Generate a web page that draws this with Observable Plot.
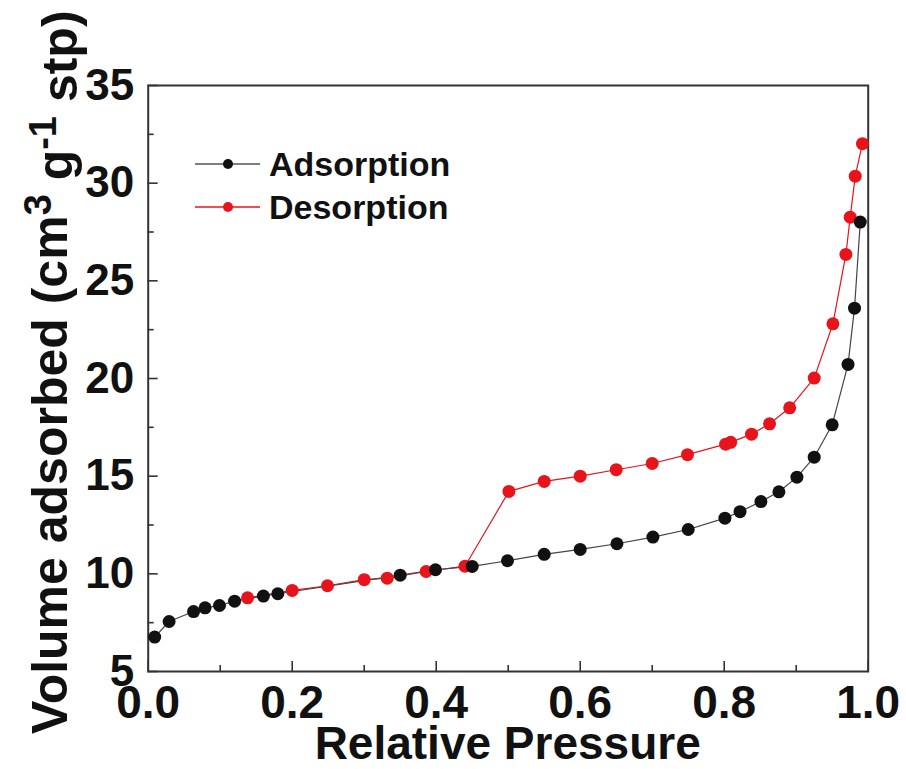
<!DOCTYPE html>
<html>
<head>
<meta charset="utf-8">
<script src="https://cdn.jsdelivr.net/npm/d3@7"></script>
<script src="https://cdn.jsdelivr.net/npm/@observablehq/plot@0.6"></script>
<style>
  html, body { margin: 0; padding: 0; background: #fff; }
  #chart svg { display: block; }
</style>
</head>
<body>
<div id="chart"></div>
<script>
// ---- Data ----
const adsorptionP = [0.009, 0.029, 0.063, 0.079, 0.099, 0.120, 0.160, 0.180, 0.350, 0.399, 0.450, 0.499,
  0.550, 0.600, 0.651, 0.701, 0.750, 0.801, 0.822, 0.851, 0.876, 0.901, 0.925, 0.950, 0.972, 0.981, 0.989];
const adsorptionV = [6.76, 7.56, 8.07, 8.26, 8.38, 8.60, 8.86, 8.98, 9.93, 10.21, 10.38, 10.67,
  11.0, 11.25, 11.54, 11.88, 12.27, 12.85, 13.18, 13.70, 14.20, 14.95, 15.97, 17.63, 20.72, 23.60, 28.01];

const desorptionP = [0.138, 0.200, 0.249, 0.300, 0.332, 0.386, 0.440, 0.501, 0.550, 0.600, 0.650, 0.700,
  0.749, 0.802, 0.809, 0.838, 0.863, 0.891, 0.925, 0.951, 0.969, 0.975, 0.982, 0.992];
const desorptionV = [8.77, 9.15, 9.39, 9.70, 9.78, 10.12, 10.39, 14.22, 14.73, 15.00, 15.33, 15.65,
  16.10, 16.64, 16.73, 17.15, 17.68, 18.50, 20.02, 22.80, 26.35, 28.26, 30.36, 32.02];

const seriesNames = ["Adsorption", "Desorption"];
const xMajorTicks = [0, 0.2, 0.4, 0.6, 0.8, 1.0];
const xMinorTicks = [0.1, 0.3, 0.5, 0.7, 0.9];
const yMajorTicks = [5, 10, 15, 20, 25, 30, 35];
const yMinorTicks = [7.5, 12.5, 17.5, 22.5, 27.5, 32.5];
const xTitle = "Relative Pressure";

// ---- Build tables ----
const ads = adsorptionP.map((p, i) => ({p, v: adsorptionV[i]}));
const des = desorptionP.map((p, i) => ({p, v: desorptionV[i]}));

const W = 906, H = 769;
const mL = 147.7, mR = 38.3, mT = 85, mB = 98;
const frameW = W - mL - mR, frameH = H - mT - mB;
const FONT = "'Liberation Sans', Arial, Helvetica, sans-serif";
const BLACK = "#111", RED = "#e8141c";

const chart = Plot.plot({
  width: W, height: H,
  marginLeft: mL, marginRight: mR, marginTop: mT, marginBottom: mB,
  style: {fontFamily: FONT, background: "#fff", color: "#111", overflow: "visible"},
  x: {domain: [0, 1]},
  y: {domain: [5, 35]},
  marks: [
    Plot.frame({stroke: "#333", strokeWidth: 2}),
    Plot.tickX(xMajorTicks, {x: d => d, insetTop: frameH - 10, stroke: "#333", strokeWidth: 1.6}),
    Plot.tickX(xMinorTicks, {x: d => d, insetTop: frameH - 6, stroke: "#333", strokeWidth: 1.6}),
    Plot.tickY(yMajorTicks, {y: d => d, insetRight: frameW - 10, stroke: "#333", strokeWidth: 1.6}),
    Plot.tickY(yMinorTicks, {y: d => d, insetRight: frameW - 6, stroke: "#333", strokeWidth: 1.6}),
    Plot.axisX({ticks: xMajorTicks, tickSize: 0, tickPadding: 14, tickFormat: d3.format(".1f"),
      fontSize: 46, fontWeight: "bold", label: null}),
    Plot.axisY({ticks: yMajorTicks, tickSize: 0, tickPadding: 14, tickFormat: d => String(d),
      fontSize: 44, fontWeight: "bold", label: null}),
    Plot.line(des, {x: "p", y: "v", stroke: RED, strokeWidth: 1.2}),
    Plot.line(ads, {x: "p", y: "v", stroke: "#444", strokeWidth: 1.2}),
    Plot.dot(des, {x: "p", y: "v", r: 6.5, fill: RED, stroke: "none"}),
    Plot.dot(ads, {x: "p", y: "v", r: 6.5, fill: BLACK, stroke: "none"})
  ]
});

const svg = d3.select(chart);

// Y axis title with superscripts
const yt = svg.append("text")
  .attr("transform", "translate(67,734) rotate(-90)")
  .attr("text-anchor", "start")
  .attr("font-family", FONT)
  .attr("font-size", 50)
  .attr("font-weight", "bold")
  .attr("fill", "#111");
yt.append("tspan").text("Volume adsorbed (cm");
yt.append("tspan").attr("dy", "-0.42em").attr("font-size", 38).text("3");
yt.append("tspan").attr("dy", "0.42em").text(" g");
yt.append("tspan").attr("dy", "-0.42em").attr("font-size", 38).text("-1");
yt.append("tspan").attr("dy", "0.42em").text(" stp)");

// X axis title
svg.append("text")
  .attr("x", mL + frameW / 2).attr("y", 759)
  .attr("text-anchor", "middle")
  .attr("font-family", FONT)
  .attr("font-size", 46)
  .attr("font-weight", "bold")
  .attr("fill", "#111")
  .text(xTitle);

// Legend
const legendColors = [{line: "#555", dot: BLACK}, {line: RED, dot: RED}];
const lg = svg.append("g");
seriesNames.forEach((name, i) => {
  const y = 164 + i * 43;
  lg.append("line").attr("x1", 195).attr("x2", 260).attr("y1", y).attr("y2", y)
    .attr("stroke", legendColors[i].line).attr("stroke-width", 1.4);
  lg.append("circle").attr("cx", 228).attr("cy", y).attr("r", 5).attr("fill", legendColors[i].dot);
  lg.append("text").attr("x", 269).attr("y", y + 11.5)
    .attr("text-anchor", "start")
    .attr("font-family", FONT).attr("font-size", 34).attr("font-weight", "bold")
    .attr("fill", "#111").text(name);
});

document.getElementById("chart").appendChild(chart);
</script>
</body>
</html>
